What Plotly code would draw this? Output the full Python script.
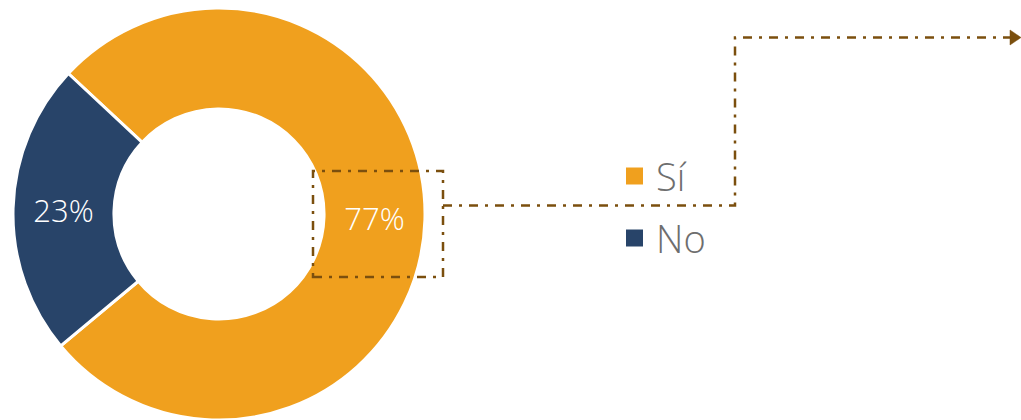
import plotly.graph_objects as go

labels = ["Sí", "No"]
values = [77, 23]
colors = ["#F0A01E", "#284469"]

W, H = 1021, 420
MT = 8
PH = H - MT


def px(x):
    return x / W


def py(y):
    return (H - y) / PH


fig = go.Figure()
fig.add_trace(go.Pie(
    labels=labels,
    values=values,
    hole=0.51,
    sort=False,
    direction="clockwise",
    rotation=313,
    marker=dict(colors=colors, line=dict(color="white", width=3)),
    textinfo="percent",
    textposition="inside",
    insidetextorientation="horizontal",
    textfont=dict(family="Open Sans", size=31, color="white", weight=300),
    domain=dict(x=[px(13), px(425)], y=[0, 1]),
    showlegend=False,
    hoverinfo="label+percent",
))

line_col = "#7B4F0E"
dash = "9px,7px,3px,7px"
shapes = [
    dict(type="rect", xref="paper", yref="paper",
         x0=px(313), x1=px(443), y0=py(277), y1=py(171),
         line=dict(color=line_col, width=2.5, dash=dash)),
    dict(type="path", xref="paper", yref="paper",
         path=(f"M{px(443)},{py(205.5)} L{px(735)},{py(205.5)} "
               f"L{px(735)},{py(37.5)} L{px(1011)},{py(37.5)}"),
         line=dict(color=line_col, width=2.5, dash=dash)),
    dict(type="path", xref="paper", yref="paper",
         path=(f"M{px(1010)},{py(30)} L{px(1021)},{py(37.5)} "
               f"L{px(1010)},{py(45)} Z"),
         fillcolor=line_col, line=dict(color=line_col, width=0.5)),
]

# legend drawn manually (squares + labels) from the data arrays
legend_rows = [176, 238]
annotations = []
for lab, col, yc in zip(labels, colors, legend_rows):
    shapes.append(dict(type="rect", xref="paper", yref="paper",
                       x0=px(626), x1=px(643), y0=py(yc + 8.5), y1=py(yc - 8.5),
                       fillcolor=col, line=dict(width=0)))
    annotations.append(dict(text=lab, xref="paper", yref="paper",
                            x=px(654), y=py(yc), xanchor="left", yanchor="middle",
                            showarrow=False,
                            font=dict(family="Open Sans", size=38, color="#6E6E6E", weight=300)))

fig.update_layout(
    width=W, height=H,
    margin=dict(l=0, r=0, t=MT, b=0),
    paper_bgcolor="white",
    plot_bgcolor="white",
    shapes=shapes,
    annotations=annotations,
)

fig.write_html(
    "out.html",
    config={"displayModeBar": False},
    post_script="document.body.style.margin='0';document.body.style.overflow='hidden';",
)
